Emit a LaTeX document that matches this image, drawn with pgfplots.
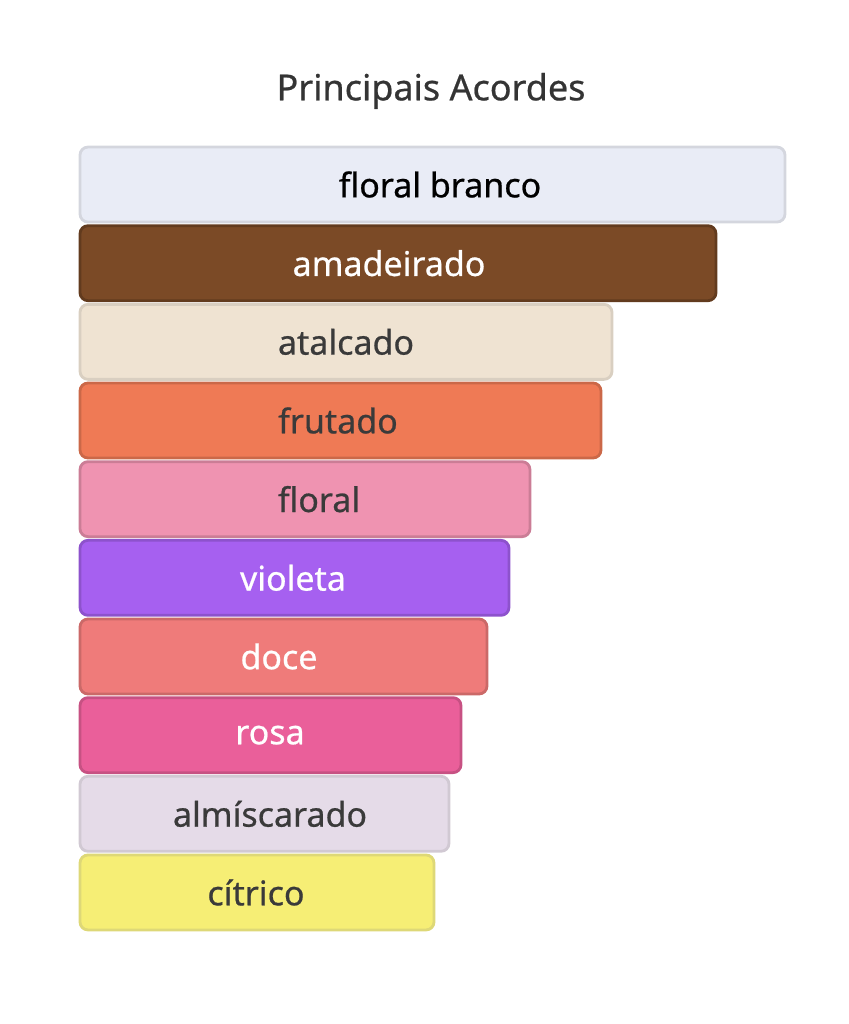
\documentclass[border=0pt]{standalone}
\usepackage{pgfplots}
\pgfplotsset{compat=1.18}
\usepackage{fontspec}
\setmainfont{Noto Sans}
\newfontfamily\medfont{Noto Sans}[FakeBold=0.6]

% bar colours
\definecolor{cFlB}{HTML}{E9ECF6}
\definecolor{cAma}{HTML}{7B4A26}
\definecolor{cAta}{HTML}{EFE3D2}
\definecolor{cFru}{HTML}{EF7A55}
\definecolor{cFlo}{HTML}{EF93B1}
\definecolor{cVio}{HTML}{A660F0}
\definecolor{cDoc}{HTML}{EF7B7A}
\definecolor{cRos}{HTML}{EA5F9A}
\definecolor{cAlm}{HTML}{E5DBE8}
\definecolor{cCit}{HTML}{F6EE75}
\definecolor{dark}{HTML}{3A3A3A}

\tikzset{lbl/.style={font=\medfont\fontsize{17}{20}\selectfont, anchor=center}}

\begin{document}
\begin{tikzpicture}
  \path[use as bounding box] (0,0) rectangle (424pt,512pt);
  \node[font=\medfont\fontsize{18}{21}\selectfont, text=dark!90!black] at (215.5pt,466.5pt) {Principais Acordes};
  \begin{axis}[
      at={(40pt,439.4pt)}, anchor=north west,
      scale only axis,
      width=352.5pt, height=393.3pt,
      xmin=0, xmax=705,
      ymin=-0.5, ymax=9.5,
      y dir=reverse,
      axis lines=none,
      xbar, bar shift=0pt, bar width=37.5pt,
      clip=false,
      every axis plot/.append style={rounded corners=4pt, line width=1.4pt},
    ]
    \addplot[fill=cFlB, draw=cFlB!80!gray] coordinates {(705,0)};
    \addplot[fill=cAma, draw=cAma!80!black] coordinates {(636,1)};
    \addplot[fill=cAta, draw=cAta!80!gray] coordinates {(532,2)};
    \addplot[fill=cFru, draw=cFru!85!black] coordinates {(521,3)};
    \addplot[fill=cFlo, draw=cFlo!85!black] coordinates {(450,4)};
    \addplot[fill=cVio, draw=cVio!85!black] coordinates {(429,5)};
    \addplot[fill=cDoc, draw=cDoc!85!black] coordinates {(407,6)};
    \addplot[fill=cRos, draw=cRos!85!black] coordinates {(381,7)};
    \addplot[fill=cAlm, draw=cAlm!80!gray] coordinates {(369,8)};
    \addplot[fill=cCit, draw=cCit!80!gray] coordinates {(354,9)};

    \node[lbl, text=black] at (axis cs:360,0) {floral branco};
    \node[lbl, text=white] at (axis cs:309,1) {amadeirado};
    \node[lbl, text=dark]  at (axis cs:266,2) {atalcado};
    \node[lbl, text=dark]  at (axis cs:258,3) {frutado};
    \node[lbl, text=dark]  at (axis cs:239,4) {floral};
    \node[lbl, text=white] at (axis cs:213,5) {violeta};
    \node[lbl, text=white] at (axis cs:199,6) {doce};
    \node[lbl, text=white] at (axis cs:190,7) {rosa};
    \node[lbl, text=dark]  at (axis cs:190,8) {almíscarado};
    \node[lbl, text=dark]  at (axis cs:176,9) {cítrico};
  \end{axis}
\end{tikzpicture}
\end{document}
